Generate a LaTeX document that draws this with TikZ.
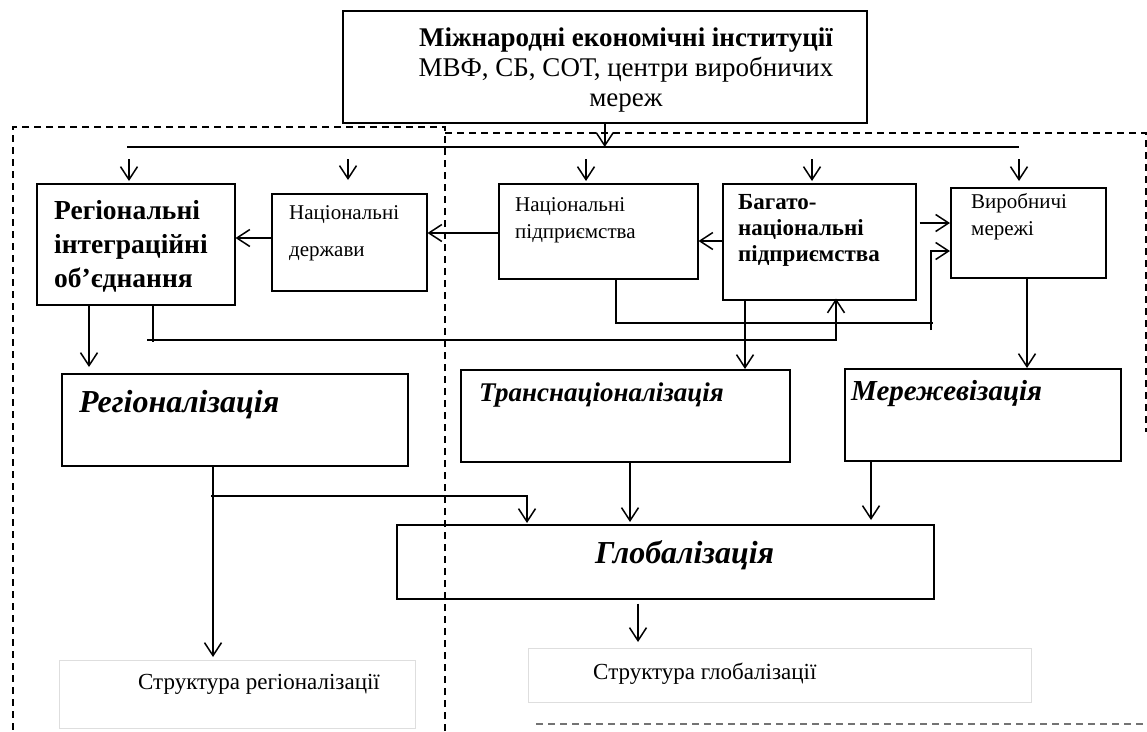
\documentclass[tikz,border=0pt]{standalone}
\usepackage{fontspec}
\setmainfont{Liberation Serif}
\usetikzlibrary{arrows.meta,calc}
\begin{document}
\begin{tikzpicture}[x=1pt,y=-1pt,
  box/.style={draw, line width=1.5pt, inner sep=0pt, anchor=north west},
  gbox/.style={draw=black!13, line width=1.2pt, inner sep=0pt, anchor=north west},
  conn/.style={line width=1.5pt},
  arr/.style={line width=1.5pt, -{Straight Barb[length=13pt,width=17pt,line width=1.5pt]}},
  dashline/.style={line width=1.1pt, dash pattern=on 7pt off 5pt},
  lbl/.style={inner sep=0pt, anchor=west, align=left},
  f21/.style={font=\fontsize{21}{27}\selectfont},
]
\useasboundingbox (0,0) rectangle (1147,731);

% dashed frames
\draw[dashline] (445,731) -- (445,127) -- (13,127) -- (13,731);
\draw[dashline] (445,133) -- (1146,133) -- (1146,432);
\draw[dashline, black!55] (536,724) -- (1147,724);

% boxes
\node[box, minimum width=524pt, minimum height=112pt] (top) at (342,10) {};
\node[box, minimum width=198pt, minimum height=121pt] (reg) at (36,183) {};
\node[box, minimum width=155pt, minimum height=97pt] (nd) at (271,193) {};
\node[box, minimum width=199pt, minimum height=95pt] (np) at (498,183) {};
\node[box, minimum width=193pt, minimum height=116pt] (bnp) at (722,183) {};
\node[box, minimum width=155pt, minimum height=90pt] (vm) at (950,187) {};
\node[box, minimum width=346pt, minimum height=92pt] (regz) at (61,373) {};
\node[box, minimum width=329pt, minimum height=92pt] (trans) at (460,369) {};
\node[box, minimum width=276pt, minimum height=92pt] (merez) at (844,368) {};
\node[box, minimum width=537pt, minimum height=74pt] (glob) at (396,524) {};
\node[gbox, minimum width=356pt, minimum height=68pt] (sreg) at (59,660) {};
\node[gbox, minimum width=503pt, minimum height=54pt] (sglob) at (528,648) {};

% texts
\node[inner sep=0pt, align=center, font=\fontsize{27}{30}\selectfont] (topt) at (626,70)
  {\textbf{Міжнародні економічні інституції}\\МВФ, СБ, СОТ, центри виробничих\\мереж};
\node[lbl, font=\fontsize{27.5}{34}\selectfont\bfseries] (regt) at (54,246)
  {Регіональні\\інтеграційні\\об’єднання};
\node[lbl, font=\fontsize{21}{37}\selectfont] (ndt) at (289,233.5) {Національні\\держави};
\node[lbl, f21] (npt) at (515,220) {Національні\\підприємства};
\node[lbl, font=\fontsize{23}{26}\selectfont\bfseries] (bnpt) at (738,230)
  {Багато-\\національні\\підприємства};
\node[lbl, f21] (vmt) at (971,217) {Виробничі\\мережі};
\node[lbl, font=\fontsize{32}{36}\selectfont\bfseries\itshape] (regzt) at (79,405) {Регіоналізація};
\node[lbl, font=\fontsize{27}{30}\selectfont\bfseries\itshape] (transt) at (479,395) {Транснаціоналізація};
\node[lbl, font=\fontsize{29}{32}\selectfont\bfseries\itshape] (merezt) at (851,394) {Мережевізація};
\node[lbl, font=\fontsize{32}{36}\selectfont\bfseries\itshape] (globt) at (595,555) {Глобалізація};
\node[lbl, font=\fontsize{23}{27}\selectfont] (sregt) at (138,684) {Структура регіоналізації};
\node[lbl, font=\fontsize{23}{27}\selectfont] (sglobt) at (593,674) {Структура глобалізації};

% top distribution
\coordinate (hl) at (127,147);
\coordinate (hr) at (1019,147);
\draw[arr] (top.south) -- (top.south |- hl);
\draw[conn] (hl) -- (hr);
\coordinate (a1) at (129,159);
\coordinate (a2) at (348,159);
\coordinate (a3) at (586,159);
\coordinate (a4) at (812,159);
\coordinate (a5) at (1019,159);
\draw[arr, shorten >=2pt] (a1) -- (a1 |- reg.north);
\draw[arr, shorten >=13pt] (a2) -- (a2 |- nd.north);
\draw[arr, shorten >=2pt] (a3) -- (a3 |- np.north);
\draw[arr, shorten >=2pt] (a4) -- (a4 |- bnp.north);
\draw[arr, shorten >=6pt] (a5) -- (a5 |- vm.north);

% horizontal arrows in the row
\coordinate (y238) at (0,238);
\coordinate (y233) at (0,233);
\coordinate (y241) at (0,241);
\coordinate (y223) at (0,223);
\draw[arr] (nd.west |- y238) -- (reg.east |- y238);
\draw[arr] (np.west |- y233) -- (nd.east |- y233);
\draw[arr] (bnp.west |- y241) -- (np.east |- y241);
\draw[arr, shorten <=3pt] (bnp.east |- y223) -- (vm.west |- y223);

% national enterprises -> network line
\coordinate (p1) at (616,323);
\coordinate (p2) at (933,323);
\draw[conn] (np.south -| p1) -- (p1) -- (p2);
\coordinate (q1) at (931,330);
\coordinate (q2) at (931,251);
\draw[arr] (q1) -- (q2) -- (vm.west |- q2);

% regional associations -> multinational
\coordinate (r0) at (147,340);
\coordinate (r1) at (153,342);
\coordinate (r2) at (836,340);
\draw[conn] (reg.south -| r1) -- (r1);
\draw[arr, shorten >=-2pt] (r0) -- (r2) -- (r2 |- bnp.south);

% downward arrows
\coordinate (c1) at (89,0);
\coordinate (c2) at (745,0);
\coordinate (c3) at (1027,0);
\draw[arr, shorten >=6pt] (reg.south -| c1) -- (c1 |- regz.north);
\draw[arr] (bnp.south -| c2) -- (c2 |- trans.north);
\draw[arr] (vm.south -| c3) -- (c3 |- merez.north);

\coordinate (c4) at (213,0);
\coordinate (h1) at (211,496);
\coordinate (h2) at (527,496);
\draw[arr, shorten >=3pt] (regz.south -| c4) -- (c4 |- sreg.north);
\draw[arr, shorten >=1pt] (h1) -- (h2) -- (h2 |- glob.north);

\coordinate (c5) at (630,0);
\coordinate (c6) at (871,0);
\coordinate (c7) at (638,0);
\draw[arr, shorten >=2pt] (trans.south -| c5) -- (c5 |- glob.north);
\draw[arr, shorten >=4pt] (merez.south -| c6) -- (c6 |- glob.north);
\draw[arr, shorten <=4pt, shorten >=6pt] (glob.south -| c7) -- (c7 |- sglob.north);
\end{tikzpicture}
\end{document}
